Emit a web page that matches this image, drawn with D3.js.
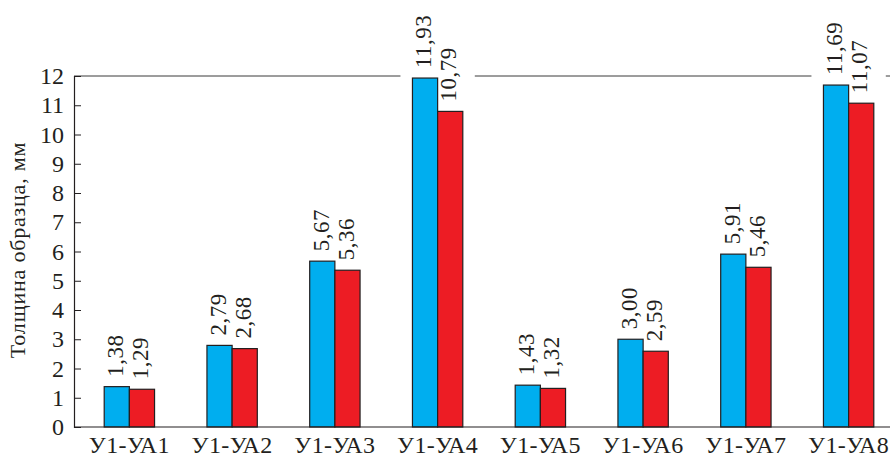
<!DOCTYPE html>
<html><head><meta charset="utf-8">
<script src="https://cdn.jsdelivr.net/npm/d3@7"></script>
<style>body{margin:0;background:#fff}svg{display:block}text{font-family:"Liberation Serif","Times New Roman",serif;fill:#231F20}</style>
</head><body>
<script>
const categories = ["У1-УА1","У1-УА2","У1-УА3","У1-УА4","У1-УА5","У1-УА6","У1-УА7","У1-УА8"];
const seriesBlue = [1.38, 2.79, 5.67, 11.93, 1.43, 3.00, 5.91, 11.69];
const seriesRed  = [1.29, 2.68, 5.36, 10.79, 1.32, 2.59, 5.46, 11.07];
const yTicks = [0,1,2,3,4,5,6,7,8,9,10,11,12];
const yTitle = "Толщина образца, мм";

const W = 890, H = 457;
const svg = d3.select("body").append("svg").attr("width", W).attr("height", H);
const x0 = 74, y0 = 427, yTop = 76;
const x = d3.scaleBand().domain(categories).range([78, 900]).paddingInner(0.51).paddingOuter(0.255);
const xs = d3.scaleBand().domain(["b","r"]).range([0, x.bandwidth()]);
const y = d3.scaleLinear().domain([0, 12]).range([y0, yTop]);
const ink = "#231F20";

// top frame line
svg.append("line").attr("x1", x0).attr("x2", W).attr("y1", yTop).attr("y2", yTop)
  .attr("stroke", "#3a3a3a").attr("stroke-width", 1);

const data = categories.map((c, i) => ({c, vals: [{k:"b", v: seriesBlue[i]}, {k:"r", v: seriesRed[i]}]}));
const fmt = v => d3.format(".2f")(v).replace(".", ",");

const g = svg.selectAll("g.grp").data(data).join("g").attr("class","grp")
  .attr("transform", d => `translate(${x(d.c)},0)`);

// white gaps behind labels that rise above the frame
g.filter(d => d3.max(d.vals, e => e.v) > 11)
  .append("rect").attr("x", -12).attr("width", x.bandwidth() + 24)
  .attr("y", yTop - 3).attr("height", 6).attr("fill", "#fff");

g.selectAll("rect.bar").data(d => d.vals).join("rect").attr("class","bar")
  .attr("x", d => xs(d.k)).attr("width", xs.bandwidth())
  .attr("y", d => y(d.v)).attr("height", d => y0 - y(d.v))
  .attr("fill", d => d.k === "b" ? "#00AEEF" : "#ED1C24")
  .attr("stroke", ink).attr("stroke-width", 1.2);

g.selectAll("text.val").data(d => d.vals).join("text").attr("class","val")
  .attr("transform", d => `translate(${xs(d.k) + xs.bandwidth()/2 + 1},${y(d.v) - 10}) rotate(-90)`)
  .attr("dominant-baseline", "middle").attr("text-anchor", "start")
  .attr("font-size", 23).attr("letter-spacing", 0.5).text(d => fmt(d.v));

// y axis
const yAxis = d3.axisLeft(y).tickValues(yTicks).tickSize(-7).tickPadding(10).tickFormat(d3.format("d"));
const ya = svg.append("g").attr("transform", `translate(${x0},0)`).call(yAxis);
ya.select(".domain").attr("stroke", ink).attr("stroke-width", 1.2);
ya.selectAll(".tick line").attr("stroke", ink).attr("stroke-width", 1);
ya.selectAll(".tick text").attr("font-size", 24).attr("fill", ink);

// x axis
const xAxis = d3.axisBottom(x).tickSize(0).tickPadding(9);
const xa = svg.append("g").attr("transform", `translate(0,${y0})`).call(xAxis);
xa.select(".domain").remove();
svg.append("line").attr("x1", x0).attr("x2", W).attr("y1", y0).attr("y2", y0).attr("stroke", ink).attr("stroke-width", 1.2);
xa.selectAll(".tick text").attr("font-size", 24).attr("letter-spacing", 0.4).attr("fill", ink);

svg.append("text").attr("transform", `translate(25,250) rotate(-90)`)
  .attr("text-anchor", "middle").attr("font-size", 22).attr("letter-spacing", 0.8).text(yTitle);
</script>
</body></html>
